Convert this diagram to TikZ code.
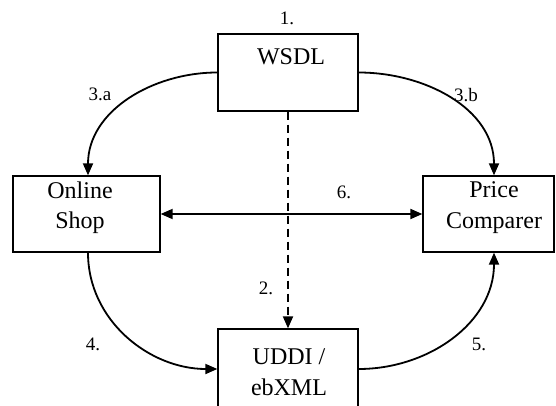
\documentclass[tikz,border=0pt]{standalone}
\usepackage{fontspec}
\setmainfont{Liberation Serif}
\usetikzlibrary{arrows.meta}
\tikzset{
  box/.style={draw, line width=1.3pt, inner sep=0pt},
  txt/.style={font=\fontsize{24}{30.5}\selectfont, align=center},
  lbl/.style={font=\fontsize{19}{22}\selectfont},
  flow/.style={line width=1.8pt, -{Triangle[length=12pt,width=10pt]}}
}
\begin{document}
\begin{tikzpicture}[x=1pt, y=-1pt]
  \clip (0,0) rectangle (556,406);

  \node[box, minimum width=140pt, minimum height=77pt] (wsdl) at (288,72.5) {};
  \node[box, minimum width=147pt, minimum height=76pt] (shop) at (86.5,214) {};
  \node[box, minimum width=131pt, minimum height=76pt] (price) at (488.5,214) {};
  \node[box, minimum width=140pt, minimum height=80pt] (uddi) at (288,369) {};

  \node[txt] (wsdltxt) at (291,57) {WSDL};
  \node[txt] (shoptxt) at (80,207.5) {Online\\Shop};
  \node[txt] (pricetxt) at (494,207.5) {Price\\Comparer};
  \node[txt] (udditxt) at (289,372) {UDDI /\\ebXML};

  \draw[flow] (wsdl.west) to[out=180, in=90] ([xshift=1.5pt]shop.north);
  \draw[flow] (wsdl.east) to[out=0, in=90] ([xshift=5.5pt]price.north);
  \draw[flow] ([xshift=1.5pt]shop.south) to[out=-90, in=180] (uddi.west);
  \draw[flow] (uddi.east) to[out=0, in=-90] ([xshift=5.5pt]price.south);
  \draw[line width=1.8pt, {Triangle[length=12pt,width=10pt]}-{Triangle[length=12pt,width=10pt]}] (shop.east) -- (price.west);
  \draw[flow, dash pattern=on 8pt off 5pt] (wsdl.south) -- (uddi.north);

  \node[lbl] (n1) at (287,18) {1.};
  \node[lbl] (n3a) at (100,94) {3.a};
  \node[lbl] (n3b) at (466,95) {3.b};
  \node[lbl] (n6) at (344,192) {6.};
  \node[lbl] (n2) at (266,288) {2.};
  \node[lbl] (n4) at (93,344) {4.};
  \node[lbl] (n5) at (479,344) {5.};
\end{tikzpicture}
\end{document}
